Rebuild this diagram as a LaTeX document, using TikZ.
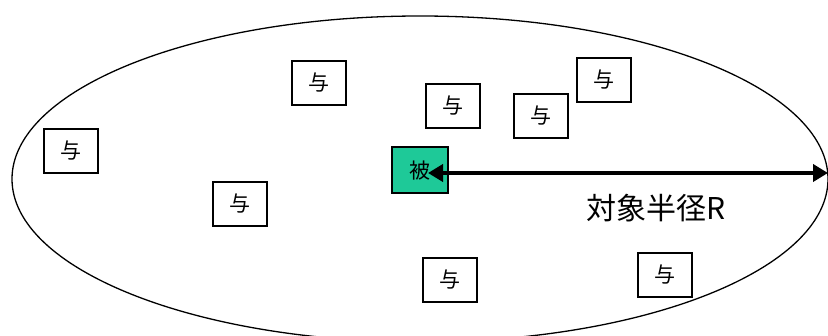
\documentclass[tikz,border=0pt]{standalone}
\usepackage{fontspec}
\newfontfamily\cjk{Noto Sans CJK JP}
\usetikzlibrary{arrows.meta}
\definecolor{beigreen}{RGB}{30,201,152}
\tikzset{
  yobox/.style={draw=black, line width=1.4pt, fill=white, minimum width=54pt, minimum height=44pt, inner sep=0pt, font=\cjk\fontsize{21}{21}\selectfont},
  beibox/.style={yobox, fill=beigreen, line width=2pt, minimum width=56pt, minimum height=46pt},
  radius arrow/.style={line width=4.2pt, {Triangle[length=15pt,width=17pt]}-{Triangle[length=15pt,width=17pt]}}
}
\begin{document}
\begin{tikzpicture}[x=1pt,y=-1pt]
\useasboundingbox (0,0) rectangle (828,336);
\clip (0,0) rectangle (828,336);
\draw[line width=1.3pt] (420,179) ellipse [x radius=408, y radius=163];
\node[yobox] (y1) at (319,83) {与};
\node[yobox] (y2) at (453,106) {与};
\node[yobox] (y3) at (541,116) {与};
\node[yobox] (y4) at (604,80) {与};
\node[yobox] (y5) at (71,151) {与};
\node[yobox] (y6) at (240,204) {与};
\node[yobox] (y7) at (450,280) {与};
\node[yobox] (y8) at (665,275) {与};
\node[beibox] (bei) at (419.5,170.5) {被};
\coordinate (rs) at (428,173);
\coordinate (re) at (828,173);
\draw[radius arrow] (rs) -- (re);
\node[font=\cjk\fontsize{30}{30}\selectfont, anchor=center] (lab) at (656,208) {対象半径R};
\end{tikzpicture}
\end{document}
